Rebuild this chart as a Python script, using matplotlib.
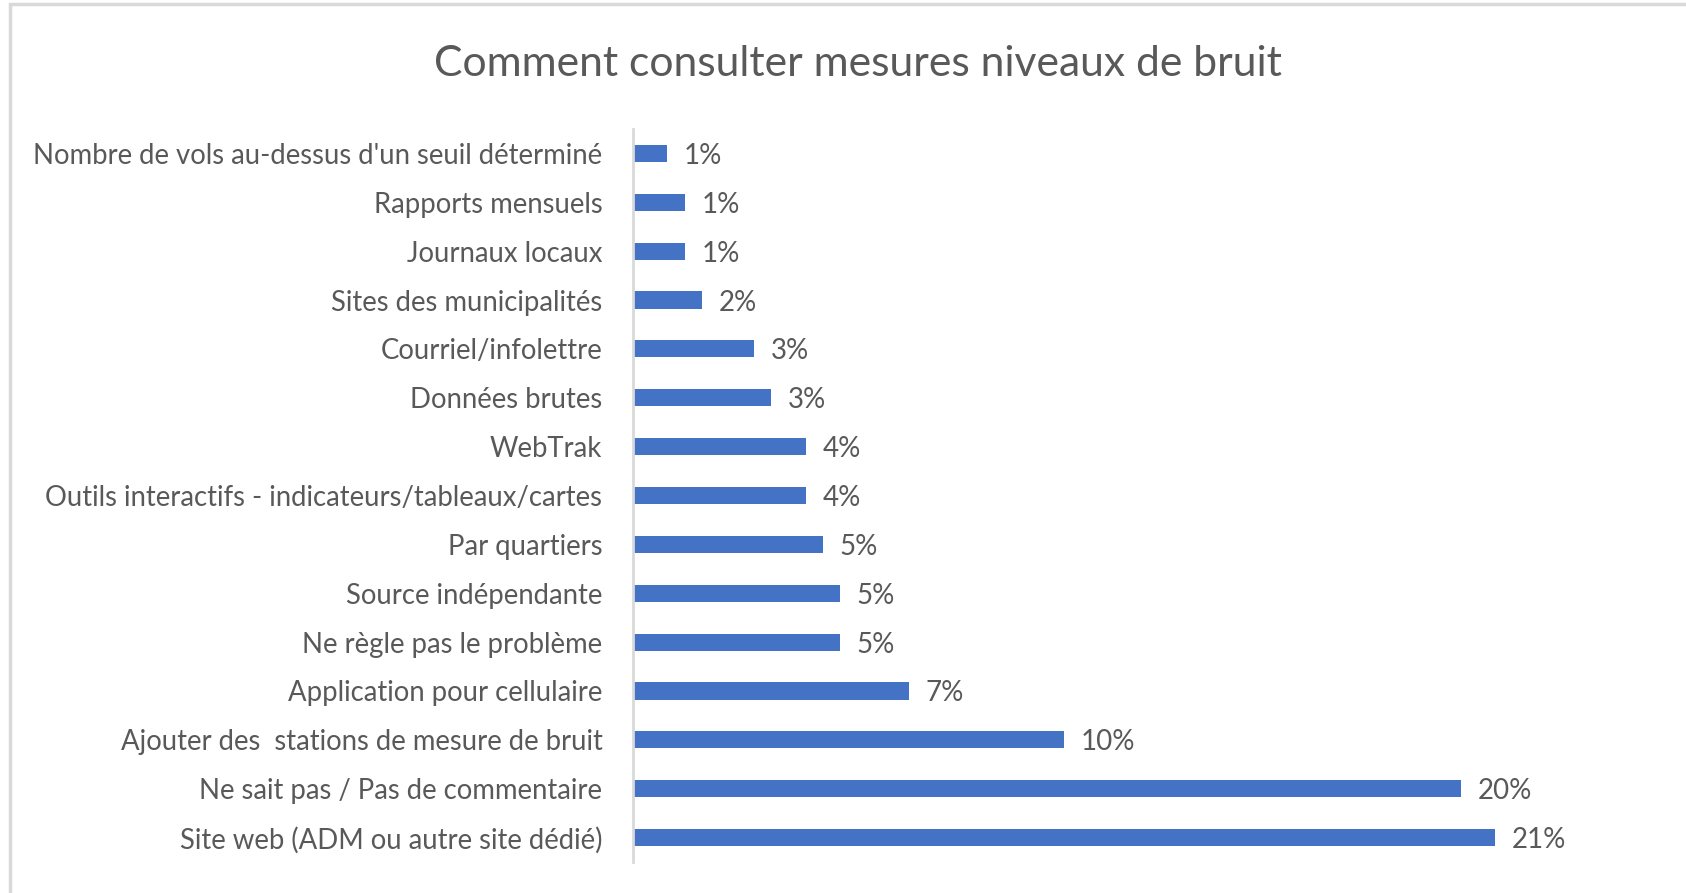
import matplotlib
matplotlib.use("Agg")
import matplotlib.pyplot as plt
from matplotlib.patches import Rectangle

categories = [
    "Nombre de vols au-dessus d'un seuil déterminé",
    "Rapports mensuels",
    "Journaux locaux",
    "Sites des municipalités",
    "Courriel/infolettre",
    "Données brutes",
    "WebTrak",
    "Outils interactifs - indicateurs/tableaux/cartes",
    "Par quartiers",
    "Source indépendante",
    "Ne règle pas le problème",
    "Application pour cellulaire",
    "Ajouter des  stations de mesure de bruit",
    "Ne sait pas / Pas de commentaire",
    "Site web (ADM ou autre site dédié)",
]
values = [0.83, 1.25, 1.25, 1.67, 2.92, 3.33, 4.17, 4.17, 4.58, 5.0, 5.0, 6.67, 10.42, 20.0, 20.83]
value_labels = ["1%", "1%", "1%", "2%", "3%", "3%", "4%", "4%", "5%", "5%", "5%", "7%", "10%", "20%", "21%"]
title = "Comment consulter mesures niveaux de bruit"

W, H, DPI = 1686, 893, 100
BAR = "#4472C4"
TXT = "#595959"
GRID = "#D9D9D9"
FONT = ["Lato", "DejaVu Sans"]

fig = plt.figure(figsize=(W / DPI, H / DPI), dpi=DPI)
fig.patch.set_facecolor("white")

# chart border (cut off at right and bottom)
fig.patches.append(Rectangle((10 / W, -0.1), 1.2, (H - 4) / H + 0.1, transform=fig.transFigure,
                             fill=False, edgecolor=GRID, linewidth=2.5))

ax_left, ax_right = 633, 1633
ax_top, ax_bot = 129, 862
ax = fig.add_axes([ax_left / W, 1 - ax_bot / H, (ax_right - ax_left) / W, (ax_bot - ax_top) / H])
ax.set_facecolor("none")

y = list(range(len(categories)))
ax.barh(y, values, height=0.35, color=BAR, zorder=2)
ax.set_ylim(len(categories) - 0.5, -0.5)
ax.set_xlim(0, 1000 / 41.38)
ax.set_yticks(y)
ax.set_yticklabels(categories, family=FONT, fontsize=19.8, color=TXT)
ax.tick_params(axis="y", length=0, pad=22)
ax.set_xticks([])
for s in ["top", "right", "bottom"]:
    ax.spines[s].set_visible(False)
ax.spines["left"].set_color(GRID)
ax.spines["left"].set_linewidth(2)

for yi, v, lab in zip(y, values, value_labels):
    ax.annotate(lab, (v, yi), xytext=(12, 0), textcoords="offset points",
                va="center_baseline", ha="left", family=FONT, fontsize=20, color=TXT)

fig.text(858 / W, 1 - 64 / H, title, ha="center", va="center", family=FONT,
         fontsize=30.7, color=TXT)

fig.savefig("out.png", dpi=DPI)
